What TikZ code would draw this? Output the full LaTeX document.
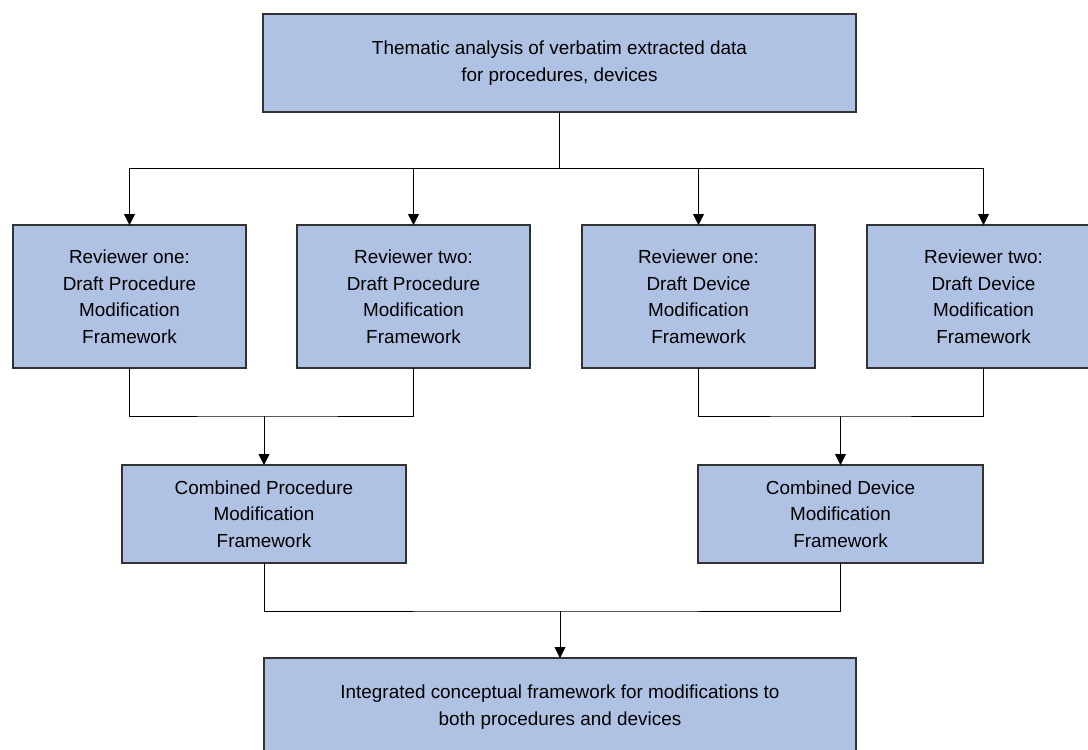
\documentclass[tikz,border=0pt]{standalone}
\usepackage{fontspec}
\setmainfont{Liberation Sans}
\usetikzlibrary{arrows.meta}
\definecolor{boxfill}{RGB}{175,194,228}
\definecolor{boxline}{RGB}{50,50,50}
\begin{document}
\begin{tikzpicture}[x=1pt,y=-1pt,
  box/.style={draw=boxline,line width=1.1pt,fill=boxfill,inner sep=0pt,outer sep=0pt,
    align=center,font=\fontsize{18.9}{26.5}\selectfont},
  link/.style={draw=black,line width=0.8pt},
  arr/.style={link,-{Triangle[width=11pt,length=11pt]}}]
\useasboundingbox (0,0) rectangle (1088,750);
\fill[white] (0,0) rectangle (1088,750);
\node[box,minimum width=593pt,minimum height=98pt] (top) at (559.5,63)
  {Thematic analysis of verbatim extracted data\\for procedures, devices};
\node[box,minimum width=233pt,minimum height=143pt] (r1) at (129.5,296.5)
  {Reviewer one:\\Draft Procedure\\Modification\\Framework};
\node[box,minimum width=233pt,minimum height=143pt] (r2) at (413.5,296.5)
  {Reviewer two:\\Draft Procedure\\Modification\\Framework};
\node[box,minimum width=233pt,minimum height=143pt] (r3) at (698.5,296.5)
  {Reviewer one:\\Draft Device\\Modification\\Framework};
\node[box,minimum width=233pt,minimum height=143pt] (r4) at (983.5,296.5)
  {Reviewer two:\\Draft Device\\Modification\\Framework};
\node[box,minimum width=284pt,minimum height=98pt] (c1) at (264,514)
  {Combined Procedure\\Modification\\Framework};
\node[box,minimum width=285pt,minimum height=98pt] (c2) at (840.5,514)
  {Combined Device\\Modification\\Framework};
\node[box,minimum width=592pt,minimum height=98pt] (bot) at (560,707)
  {Integrated conceptual framework for modifications to\\both procedures and devices};
\coordinate (j1) at (559.5,168);
\coordinate (j2) at (264,416);
\coordinate (j3) at (840.5,416);
\coordinate (j4) at (560,611);
\draw[link] (top.south) -- (j1);
\draw[arr] (j1) -| (r1.north);
\draw[arr] (j1) -| (r2.north);
\draw[arr] (j1) -| (r3.north);
\draw[arr] (j1) -| (r4.north);
\draw[link] (r1.south) |- (j2) -| (r2.south);
\draw[arr] (j2) -- (c1.north);
\draw[link] (r3.south) |- (j3) -| (r4.south);
\draw[arr] (j3) -- (c2.north);
\draw[link] (c1.south) |- (j4) -| (c2.south);
\draw[arr] (j4) -- (bot.north);
\end{tikzpicture}
\end{document}
